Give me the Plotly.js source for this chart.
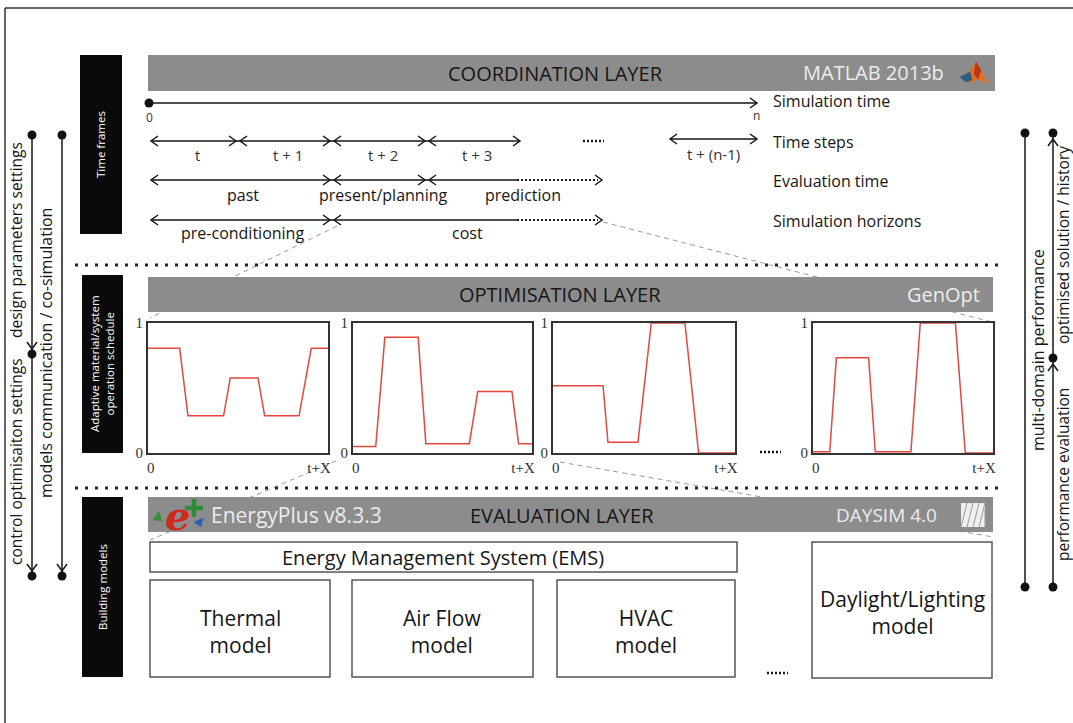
<!DOCTYPE html>
<html><head><meta charset="utf-8">
<script src="https://cdn.plot.ly/plotly-3.0.1.min.js"></script>
<style>body{margin:0;background:#fff}#chart{width:1073px;height:723px}</style>
</head><body><div id="chart"></div>
<script>
// ---------- data ----------
const layerNames = ['COORDINATION LAYER', 'OPTIMISATION LAYER', 'EVALUATION LAYER'];
const toolNames = ['MATLAB 2013b', 'GenOpt', 'EnergyPlus v8.3.3', 'DAYSIM 4.0'];
const rowLabels = ['Simulation time', 'Time steps', 'Evaluation time', 'Simulation horizons'];
const stepLabels = ['t', 't + 1', 't + 2', 't + 3', 't + (n-1)'];
const evalLabels = ['past', 'present/planning', 'prediction'];
const horizonLabels = ['pre-conditioning', 'cost'];
const modelLabels = ['Thermal<br>model', 'Air Flow<br>model', 'HVAC<br>model', 'Daylight/Lighting<br>model'];
const emsLabel = 'Energy Management System (EMS)';
const sideLabels = ['Time frames', 'Adaptive material/system<br>operation schedule', 'Building models'];
const leftFlows = ['design parameters settings', 'control optimisaiton settings', 'models communication / co-simulation'];
const rightFlows = ['multi-domain performance', 'optimised solution / history', 'performance evaluation'];
const axisTickText = ['0', 't+X'];
const valueTickText = ['0', '1'];

const sched1X = [0, 0.176, 0.222, 0.42, 0.457, 0.611, 0.648, 0.839, 0.907, 1];
const sched1Y = [0.805, 0.805, 0.286, 0.286, 0.577, 0.577, 0.286, 0.286, 0.805, 0.805];
const sched2X = [0, 0.127, 0.178, 0.364, 0.407, 0.65, 0.697, 0.888, 0.925, 1];
const sched2Y = [0.05, 0.05, 0.89, 0.89, 0.072, 0.072, 0.474, 0.474, 0.072, 0.072];
const sched3X = [0, 0.275, 0.302, 0.467, 0.54, 0.725, 0.80, 1];
const sched3Y = [0.518, 0.518, 0.082, 0.082, 1, 1, 0, 0];
const sched4X = [0, 0.093, 0.13, 0.309, 0.346, 0.544, 0.596, 0.791, 0.846, 1];
const sched4Y = [0.01, 0.01, 0.733, 0.733, 0.01, 0.01, 1, 1, 0, 0];

// ---------- helpers ----------
const W = 1073, H = 723;
const F = 'Open Sans, Lato, sans-serif';
const C = '#161616';
const X = x => x / W, Y = y => 1 - y / H;
const shapes = [], ann = [];
function L(x0, y0, x1, y1, color = C, width = 1.5, dash = 'solid', layer = 'above') {
  shapes.push({type: 'line', xref: 'paper', yref: 'paper', x0: X(x0), y0: Y(y0), x1: X(x1), y1: Y(y1),
    line: {color, width, dash}, layer});
}
function R(x0, y0, x1, y1, fill, lineColor, lw) {
  shapes.push({type: 'rect', xref: 'paper', yref: 'paper', x0: X(x0), y0: Y(y0), x1: X(x1), y1: Y(y1),
    fillcolor: fill, line: {color: lineColor || 'rgba(0,0,0,0)', width: lw || 0}, layer: 'above'});
}
function P(pts, closed, fill, color = C, width = 1.5) {
  const d = pts.map((p, i) => (i ? 'L' : 'M') + X(p[0]).toFixed(5) + ',' + Y(p[1]).toFixed(5)).join(' ') + (closed ? ' Z' : '');
  shapes.push({type: 'path', xref: 'paper', yref: 'paper', path: d, fillcolor: fill || 'rgba(0,0,0,0)',
    line: {color, width: width}, layer: 'above'});
}
function D(x, y, r = 4.5) {
  shapes.push({type: 'circle', xref: 'paper', yref: 'paper', x0: X(x - r), y0: Y(y + r), x1: X(x + r), y1: Y(y - r),
    fillcolor: '#111', line: {color: '#111', width: 0}, layer: 'above'});
}
const aR = (x, y) => P([[x - 7, y - 5], [x, y], [x - 7, y + 5]]);
const aL = (x, y) => P([[x + 7, y - 5], [x, y], [x + 7, y + 5]]);
const aD = (x, y) => P([[x - 5, y - 7], [x, y], [x + 5, y - 7]]);
const aU = (x, y) => P([[x - 5, y + 7], [x, y], [x + 5, y + 7]]);
function T(x, y, text, size, color = C, o = {}) {
  ann.push({xref: 'paper', yref: 'paper', x: X(x), y: Y(y), text, showarrow: false,
    font: {family: o.family || F, size, color}, xanchor: o.xa || 'center', yanchor: 'middle',
    textangle: o.angle || 0, align: 'center', borderpad: 0});
}

// ---------- outer frame ----------
L(5, 8, 1073, 8, '#333', 1.5);
L(5, 8, 5, 723, '#333', 1.5);

// ---------- dashed connector lines (behind) ----------
const dashC = '#9a9a9a', dashP = '5px,4px';
L(337, 226, 150, 318, dashC, 1, dashP, 'below');
L(603, 222, 992, 322, dashC, 1, dashP, 'below');
L(336, 461, 150, 540, dashC, 1, dashP, 'below');
L(560, 462, 993, 537, dashC, 1, dashP, 'below');

// ---------- layer bars ----------
const barC = '#8c8c8c';
R(148, 55, 995, 91, barC);
R(148, 277, 993, 312, barC);
R(148, 497, 993, 532, barC);
T(555, 74, layerNames[0], 20, '#161616');
T(560, 294, layerNames[1], 20, '#161616');
T(562, 515, layerNames[2], 20, '#161616');
T(873, 73, toolNames[0], 20, '#ececec');
T(943, 294, toolNames[1], 20, '#ececec');
T(296, 515, toolNames[2], 21, '#ececec');
T(886, 515, toolNames[3], 19, '#ececec');

// MATLAB logo
P([[960, 77], [970, 72], [976, 62], [981, 70], [988, 84], [978, 79], [970, 83]], true, '#e0701e', '#e0701e', 0.5);
P([[960, 77], [970, 72], [972, 80], [966, 82]], true, '#2a5d86', '#2a5d86', 0.5);
P([[976, 62], [981, 70], [978, 79], [974, 74]], true, '#b8361a', '#b8361a', 0.5);
// DAYSIM icon
R(961, 503, 985, 527, '#efefef');
for (let k = 0; k < 5; k++) L(961 + k * 6, 527, 967 + k * 6 > 985 ? 985 : 967 + k * 6, 503 + (967 + k * 6 > 985 ? (967 + k * 6 - 985) : 0), '#9a9a9a', 1);
// EnergyPlus logo (green/blue plus drawn as shapes, red e as text)
L(185, 508, 203, 508, '#2e8b3a', 4.5);
L(194, 499, 194, 517, '#2e8b3a', 4.5);
P([[153, 520], [159, 511], [162, 521]], true, '#3a8f3a', '#3a8f3a', 0.5);
P([[194, 522], [203, 518], [201, 527]], true, '#2b62b0', '#2b62b0', 0.5);
ann.push({xref: 'paper', yref: 'paper', x: X(177), y: Y(515), text: '<b><i>e</i></b>', showarrow: false,
  font: {family: 'DejaVu Serif', size: 40, color: '#d0281c'}, xanchor: 'center', yanchor: 'middle', borderpad: 0});

// ---------- black side boxes ----------
R(80, 55, 122, 234, '#0a0a0a');
R(82, 275, 123, 453, '#0a0a0a');
R(82, 497, 123, 677, '#0a0a0a');
T(101, 145, sideLabels[0], 11.5, '#fff', {angle: -90});
T(102, 364, sideLabels[1], 11.5, '#fff', {angle: -90});
T(102, 587, sideLabels[2], 11.5, '#fff', {angle: -90});

// ---------- separators ----------
L(75, 265, 1003, 265, '#222', 3, '3px,7px');
L(75, 488, 1003, 488, '#222', 3, '3px,7px');

// ---------- time frames ----------
D(149, 103, 4.5);
L(149, 103, 757, 103);
aR(757, 103);
T(149, 118, '0', 12, '#333');
T(756, 116, 'n', 12, '#333');
T(772, 101, rowLabels[0], 16, C, {xa: 'left'});
T(772, 142, rowLabels[1], 16, C, {xa: 'left'});
T(772, 181, rowLabels[2], 16, C, {xa: 'left'});
T(772, 221, rowLabels[3], 16, C, {xa: 'left'});
const stepB = [151, 238, 332, 427, 520];
for (let i = 0; i < 4; i++) {
  L(stepB[i], 141, stepB[i + 1], 141);
  aL(stepB[i] + (i ? 2 : 0), 141);
  aR(stepB[i + 1] - (i < 3 ? 2 : 0), 141);
  T((stepB[i] + stepB[i + 1]) / 2 + 3, 155, stepLabels[i], 15, '#333');
}
L(583, 141, 604, 141, C, 2.5, '2px,2px');
L(670, 139, 757, 139); aL(670, 139); aR(757, 139);
T(713, 154, stepLabels[4], 15, '#333');
L(151, 180, 517, 180);
aL(151, 180); aR(330, 180); aL(334, 180); aR(425, 180); aL(429, 180);
L(517, 180, 598, 180, C, 2, '2px,2px'); aR(602, 180);
T(243, 195, evalLabels[0], 16, C);
T(383, 195, evalLabels[1], 16, C);
T(523, 195, evalLabels[2], 16, C);
L(151, 220, 517, 220);
aL(151, 220); aR(330, 220); aL(334, 220);
L(517, 220, 598, 220, C, 2, '2px,2px'); aR(602, 220);
T(242, 233, horizonLabels[0], 16, C);
T(467, 233, horizonLabels[1], 16, C);

// ---------- ellipses ----------
L(760, 452, 781, 452, C, 2.5, '2px,2px');
L(767, 673, 788, 673, C, 2.5, '2px,2px');

// ---------- evaluation layer boxes ----------
const boxC = '#555';
R(150, 542, 737, 572, 'rgba(0,0,0,0)', boxC, 1.5);
T(443, 557, emsLabel, 20, C);
R(150, 580, 330, 677, 'rgba(0,0,0,0)', boxC, 1.5);
R(352, 580, 533, 677, 'rgba(0,0,0,0)', boxC, 1.5);
R(557, 580, 735, 677, 'rgba(0,0,0,0)', boxC, 1.5);
R(812, 542, 992, 678, 'rgba(0,0,0,0)', boxC, 1.5);
T(240, 631, modelLabels[0], 21, C);
T(442, 631, modelLabels[1], 21, C);
T(646, 631, modelLabels[2], 21, C);
T(902, 612, modelLabels[3], 21, C);

// ---------- left flows ----------
L(32, 135, 32, 575); D(32, 135); D(32, 354); aD(32, 349); D(32, 576); aD(32, 571);
L(62, 135, 62, 575); D(62, 135); D(62, 576); aD(62, 571);
T(16, 240, leftFlows[0], 15.5, C, {angle: -90});
T(16, 462, leftFlows[1], 15.5, C, {angle: -90});
T(46, 353, leftFlows[2], 16, C, {angle: -90});

// ---------- right flows ----------
L(1025, 133, 1025, 587); D(1025, 133); D(1025, 587);
L(1053, 133, 1053, 587); D(1053, 133); aU(1053, 139); D(1053, 358); aU(1053, 364); D(1053, 587);
T(1038, 350, rightFlows[0], 16, C, {angle: -90});
T(1063, 245, rightFlows[1], 15.5, C, {angle: -90});
T(1063, 475, rightFlows[2], 15.5, C, {angle: -90});

// ---------- schedule charts ----------
const charts = [[148, 328], [353, 532], [553, 735], [813, 993]];
const sx = [sched1X, sched2X, sched3X, sched4X];
const sy = [sched1Y, sched2Y, sched3Y, sched4Y];
const traces = [];
const layout = {
  width: W, height: H, margin: {l: 0, r: 0, t: 0, b: 0}, paper_bgcolor: '#fff', plot_bgcolor: 'rgba(0,0,0,0)',
  showlegend: false, shapes, annotations: ann, font: {family: F}
};
const tf = {family: 'Liberation Serif, DejaVu Serif, serif', size: 15, color: '#333'};
charts.forEach((c, i) => {
  const n = i === 0 ? '' : String(i + 1);
  traces.push({x: sx[i], y: sy[i], xaxis: 'x' + n, yaxis: 'y' + n, type: 'scatter', mode: 'lines',
    line: {color: '#e5463e', width: 1.5}, hoverinfo: 'skip'});
  layout['xaxis' + n] = {domain: [X(c[0]), X(c[1])], range: [0, 1], anchor: 'y' + n, showline: true, mirror: true,
    linecolor: '#333', linewidth: 2, showgrid: false, zeroline: false, tickvals: [0.015, 0.95], ticktext: axisTickText,
    ticks: '', tickfont: tf, fixedrange: true};
  layout['yaxis' + n] = {domain: [Y(453), Y(323)], range: [0, 1], anchor: 'x' + n, showline: true, mirror: true,
    linecolor: '#333', linewidth: 2, showgrid: false, zeroline: false, tickvals: [0, 1], ticktext: valueTickText,
    ticks: '', tickfont: tf, fixedrange: true};
});

Plotly.newPlot('chart', traces, layout, {staticPlot: true, displayModeBar: false});
</script></body></html>
